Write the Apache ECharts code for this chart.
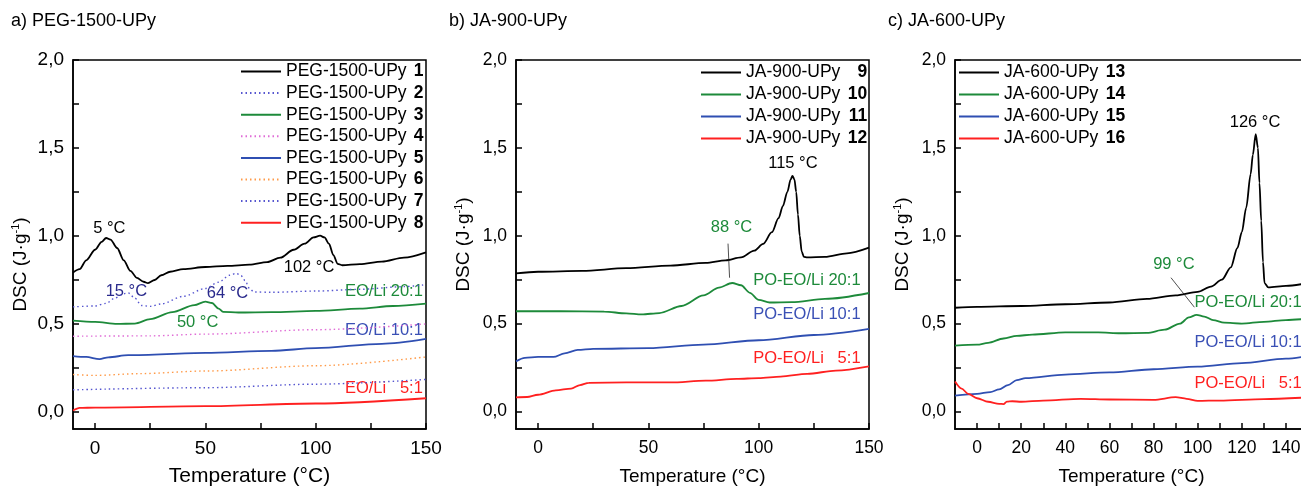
<!DOCTYPE html>
<html><head><meta charset="utf-8">
<script src="https://cdn.jsdelivr.net/npm/echarts@6/dist/echarts.min.js"></script>
<style>html,body{margin:0;padding:0;overflow:hidden;background:#fff}#c{width:1301px;height:487px}</style>
</head><body><div id="c"></div><script>
// ---------- data: [temperature °C, DSC J/g] ----------
const peg1 = [[-10,0.79],[-7,0.81],[-4,0.86],[0,0.92],[3,0.965],[5,0.987],[7,0.978],[10,0.93],[13,0.86],[16,0.80],[19,0.76],[22,0.738],[24,0.73],[27,0.748],[30,0.775],[34,0.795],[40,0.81],[50,0.822],[60,0.828],[70,0.835],[78,0.85],[84,0.875],[90,0.92],[95,0.955],[99,0.99],[102,1.0],[104,0.99],[106,0.955],[108,0.89],[110,0.84],[112,0.832],[120,0.838],[130,0.852],[140,0.875],[150,0.905]];
const peg2 = [[-10,0.595],[0,0.60],[5,0.615],[9,0.645],[13,0.67],[15,0.675],[18,0.645],[21,0.603],[25,0.598],[30,0.612],[40,0.655],[50,0.70],[56,0.735],[61,0.775],[64,0.786],[66,0.775],[68,0.745],[70,0.70],[72,0.68],[80,0.678],[100,0.685],[120,0.695],[140,0.71],[150,0.722]];
const peg3 = [[-10,0.517],[0,0.51],[10,0.498],[18,0.50],[25,0.525],[35,0.565],[45,0.605],[50,0.625],[53,0.617],[56,0.585],[58,0.567],[65,0.563],[80,0.565],[100,0.572],[120,0.585],[135,0.6],[150,0.613]];
const peg4 = [[-10,0.428],[25,0.43],[50,0.44],[100,0.465],[150,0.498]];
const peg5 = [[-10,0.315],[-4,0.31],[2,0.298],[6,0.308],[15,0.32],[50,0.333],[80,0.345],[100,0.36],[130,0.385],[150,0.413]];
const peg6 = [[-10,0.21],[0,0.205],[20,0.215],[50,0.23],[100,0.26],[150,0.31]];
const peg7 = [[-10,0.123],[50,0.135],[100,0.155],[150,0.182]];
const peg8 = [[-10,0.005],[-7,0.02],[0,0.022],[50,0.03],[100,0.045],[150,0.075]];

const ja9  = [[-10,0.786],[0,0.795],[20,0.80],[40,0.815],[60,0.83],[76,0.845],[85,0.86],[92,0.877],[98,0.915],[102,0.953],[106,1.02],[109,1.1],[111,1.17],[113,1.25],[114.5,1.32],[115.3,1.341],[116.2,1.32],[117,1.25],[117.8,1.12],[118.6,1.0],[119.5,0.91],[120.5,0.88],[122,0.877],[130,0.88],[140,0.90],[150,0.932]];
const ja10 = [[-10,0.57],[10,0.57],[30,0.568],[40,0.558],[47,0.552],[55,0.56],[65,0.6],[75,0.66],[82,0.705],[88,0.731],[92,0.718],[96,0.675],[100,0.635],[105,0.62],[115,0.622],[130,0.64],[150,0.674]];
const ja11 = [[-10,0.285],[-6,0.305],[0,0.31],[7,0.31],[12,0.33],[18,0.35],[25,0.356],[50,0.36],[75,0.38],[100,0.405],[125,0.435],[150,0.47]];
const ja12 = [[-10,0.08],[-5,0.082],[0,0.095],[8,0.12],[15,0.13],[19,0.15],[23,0.163],[40,0.165],[60,0.165],[76,0.175],[90,0.185],[100,0.19],[110,0.198],[122,0.214],[135,0.232],[150,0.256]];

const ja13 = [[-10,0.59],[0,0.595],[20,0.60],[40,0.61],[60,0.62],[77,0.64],[90,0.66],[100,0.68],[106,0.71],[111,0.75],[115,0.82],[118,0.93],[120,1.02],[122,1.16],[124,1.35],[125,1.46],[126.3,1.578],[127.3,1.50],[128,1.30],[128.8,1.085],[129.6,0.85],[130.3,0.73],[132,0.706],[140,0.715],[150,0.73]];
const ja14 = [[-10,0.375],[0,0.38],[5,0.39],[12,0.415],[18,0.43],[25,0.437],[40,0.45],[55,0.45],[65,0.445],[77,0.447],[85,0.465],[92,0.5],[96,0.535],[99.5,0.55],[103,0.54],[107,0.52],[112,0.505],[120,0.5],[130,0.51],[140,0.52],[150,0.528]];
const ja15 = [[-10,0.09],[0,0.10],[6,0.11],[10,0.125],[14,0.15],[18,0.178],[22,0.19],[40,0.21],[60,0.222],[80,0.24],[100,0.255],[120,0.275],[140,0.30],[150,0.315]];
const ja16 = [[-10,0.17],[-7,0.13],[-4,0.10],[0,0.075],[5,0.055],[10,0.043],[12,0.042],[13.5,0.056],[16,0.058],[20,0.055],[30,0.062],[47,0.072],[60,0.068],[80,0.066],[90,0.081],[95,0.072],[100,0.06],[110,0.062],[130,0.07],[150,0.08]];

const panelTitles = ['a) PEG-1500-UPy', 'b) JA-900-UPy', 'c) JA-600-UPy'];
const namesA = ['PEG-1500-UPy 1','PEG-1500-UPy 2','PEG-1500-UPy 3','PEG-1500-UPy 4','PEG-1500-UPy 5','PEG-1500-UPy 6','PEG-1500-UPy 7','PEG-1500-UPy 8'];
const namesB = ['JA-900-UPy 9','JA-900-UPy 10','JA-900-UPy 11','JA-900-UPy 12'];
const namesC = ['JA-600-UPy 13','JA-600-UPy 14','JA-600-UPy 15','JA-600-UPy 16'];

const yTicks = [0,0.25,0.5,0.75,1,1.25,1.5,1.75,2];
const yLabels = [0,0.5,1,1.5,2];
const xTicksAB = [0,25,50,75,100,125,150];
const xLabelsAB = [0,50,100,150];
const xTicksC = [0,10,20,30,40,50,60,70,80,90,100,110,120,130,140,150];
const xLabelsC = [0,20,40,60,80,100,120,140];

// annotations: [text, x, y]
const annA = [['5 °C',6.5,1.04],['102 °C',97,0.818],['15 °C',14.2,0.682],['64 °C',60,0.67],['50 °C',46.5,0.506],['EO/Li 20:1',148.8,0.682],['EO/Li 10:1',148.8,0.46],['EO/Li   5:1',148.8,0.131]];
const annB = [['115 °C',115.5,1.41],['88 °C',87.7,1.045],['PO-EO/Li 20:1',146.4,0.744],['PO-EO/Li 10:1',146.4,0.551],['PO-EO/Li   5:1',146.4,0.301]];
const annC = [['126 °C',126,1.642],['99 °C',89.2,0.835],['PO-EO/Li 20:1',147.4,0.619],['PO-EO/Li 10:1',147.4,0.394],['PO-EO/Li   5:1',147.4,0.159]];
const arrowB = [[86.1,0.955],[86.8,0.761]];
const arrowC = [[87.9,0.761],[98.5,0.593]];

// ---------- styling ----------
const FF = '"Liberation Sans", Arial, sans-serif';
const BLACK='#000', GREEN='#1d8a3a', BLUE='#2f4fb2', RED='#ff2020', PURP='#5656d0', PINK='#e06cd6', ORNG='#ff9a48', NAVY='#2a2a8c', BLUET='#3a50b5';
const annColA = [BLACK,BLACK,NAVY,NAVY,GREEN,GREEN,BLUET,RED];
const annColBC = [BLACK,GREEN,GREEN,BLUET,RED];

const grids = [
  {left:73, top:60, width:353, height:369},
  {left:516, top:60, width:353, height:369},
  {left:955, top:60, width:353, height:369}
];
const fmtY = v => v.toFixed(1).replace('.', ',');

function lineSeries(name, data, idx, color, dotted) {
  return {type:'line', name, data, xAxisIndex:idx, yAxisIndex:idx, symbol:'none', showSymbol:false,
    smooth:0.3, smoothMonotone:'x', silent:true,
    lineStyle:{color, width: dotted ? 1.4 : 1.8, type: dotted ? [1.5,3] : 'solid'},
    itemStyle:{color}, emphasis:{disabled:true}};
}
function annSeries(idx, list, colors, rightFrom, arrow) {
  const s = {type:'scatter', xAxisIndex:idx, yAxisIndex:idx, symbolSize:1, silent:true,
    itemStyle:{color:'rgba(0,0,0,0)', opacity:1},
    data: list.map((a,i) => ({name:a[0], value:[a[1],a[2]],
      label:{show:true, formatter:'{b}', color:colors[i], fontSize:16.5, fontFamily:FF,
             textBorderWidth:0, opacity:1,
             position: i>=rightFrom ? 'left' : 'inside', distance:0}}))};
  if (arrow) {
    s.markLine = {silent:true, symbol:['none','arrow'], symbolSize:[0,8], animation:false,
      lineStyle:{color:'#222', width:0.8, type:'solid', opacity:1}, label:{show:false},
      data:[[{coord:arrow[0]},{coord:arrow[1]}]]};
  }
  return s;
}
function xAxis(idx, ticks, labels, fs, nameFs, gap) {
  return {type:'value', gridIndex:idx, min:-10, max:150,
    axisLine:{show:true, onZero:false, lineStyle:{color:'#000', width:1.5}},
    axisTick:{show:true, inside:true, length:6, customValues:ticks, lineStyle:{color:'#000', width:1.5}},
    axisLabel:{customValues:labels, color:'#000', fontSize:fs, fontFamily:FF, margin:10},
    splitLine:{show:false},
    name:'Temperature (°C)', nameLocation:'middle', nameGap:gap,
    nameTextStyle:{color:'#000', fontSize:nameFs, fontFamily:FF}};
}
function yAxis(idx, fs, nameFs, gap, pad) {
  return {type:'value', gridIndex:idx, min:-0.1, max:2.0,
    axisLine:{show:true, onZero:false, lineStyle:{color:'#000', width:1.5}},
    axisTick:{show:true, inside:true, length:6, customValues:yTicks, lineStyle:{color:'#000', width:1.5}},
    axisLabel:{customValues:yLabels, formatter:fmtY, color:'#000', fontSize:fs, fontFamily:FF, margin:9},
    splitLine:{show:false},
    name:'DSC (J·g{s|-1})', nameLocation:'middle', nameGap:gap,
    nameTextStyle:{color:'#000', fontSize:nameFs, fontFamily:FF, padding:pad,
      rich:{s:{fontSize:11, fontFamily:FF, color:'#000', padding:[0,0,10,0]}}}};
}
const legFmt = name => { const i = name.lastIndexOf(' '); return name.slice(0,i) + ' {n|' + name.slice(i+1) + '}'; };
function legend(data, left, top, gap, nWidth) {
  return {data, left, top, orient:'vertical', padding:0, itemWidth:40, itemHeight:12, itemGap:gap,
    selectedMode:false, formatter:legFmt,
    itemStyle:{opacity:0},
    textStyle:{color:'#000', fontSize:17.5, lineHeight:19, fontFamily:FF,
      rich:{n:{fontWeight:'bold', fontSize:17.5, fontFamily:FF, color:'#000', width:nWidth, align:'right'}}}};
}

const option = {
  animation:false,
  backgroundColor:'#fff',
  title: panelTitles.map((t,i) => ({text:t, left:[11,449,888][i], top:12, padding:0,
    textStyle:{fontSize:18, fontWeight:'normal', color:'#000', fontFamily:FF}})),
  grid: grids.map(g => Object.assign({show:true, borderColor:'#000', borderWidth:1.5, containLabel:false, outerBoundsMode:'none'}, g)),
  xAxis: [xAxis(0,xTicksAB,xLabelsAB,19,21,37), xAxis(1,xTicksAB,xLabelsAB,17.5,19,38), xAxis(2,xTicksC,xLabelsC,17.5,19,38)],
  yAxis: [yAxis(0,19,19,42,[0,40,0,0]), yAxis(1,17.5,19,42,0), yAxis(2,17.5,19,42,0)],
  legend: [legend(namesA,240,62,2.6,12), legend(namesB,700,63,3,22), legend(namesC,958,63,3,22)],
  series: [
    lineSeries(namesA[0],peg1,0,BLACK,false),
    lineSeries(namesA[1],peg2,0,PURP,true),
    lineSeries(namesA[2],peg3,0,GREEN,false),
    lineSeries(namesA[3],peg4,0,PINK,true),
    lineSeries(namesA[4],peg5,0,BLUE,false),
    lineSeries(namesA[5],peg6,0,ORNG,true),
    lineSeries(namesA[6],peg7,0,PURP,true),
    lineSeries(namesA[7],peg8,0,RED,false),
    lineSeries(namesB[0],ja9,1,BLACK,false),
    lineSeries(namesB[1],ja10,1,GREEN,false),
    lineSeries(namesB[2],ja11,1,BLUE,false),
    lineSeries(namesB[3],ja12,1,RED,false),
    lineSeries(namesC[0],ja13,2,BLACK,false),
    lineSeries(namesC[1],ja14,2,GREEN,false),
    lineSeries(namesC[2],ja15,2,BLUE,false),
    lineSeries(namesC[3],ja16,2,RED,false),
    annSeries(0, annA, annColA, 5, null),
    annSeries(1, annB, annColBC, 2, arrowB),
    annSeries(2, annC, annColBC, 2, arrowC)
  ]
};
const chart = echarts.init(document.getElementById('c'), null, {renderer:'canvas'});
chart.setOption(option);
</script></body></html>
